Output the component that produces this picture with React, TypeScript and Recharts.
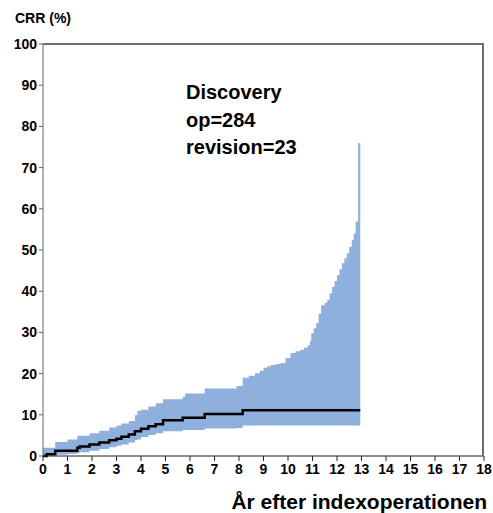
import React from "react";
import {
  ComposedChart,
  Area,
  Line,
  XAxis,
  YAxis,
} from "recharts";

// Years after index operation (step change points)
const years = [
  0, 0.15, 0.5, 1.0, 1.4, 1.5, 1.9, 2.3, 2.7, 3.0, 3.2, 3.5, 3.75, 3.85, 4.0,
  4.3, 4.6, 4.9, 5.7, 5.8, 6.6, 7.9, 8.15, 8.4, 8.65, 8.85, 9.0, 9.15, 9.3,
  9.5, 9.7, 9.9, 10.1, 10.3, 10.5, 10.65, 10.8, 10.9, 10.95, 11.05, 11.15,
  11.25, 11.35, 11.5, 11.6, 11.7, 11.8, 11.9, 12.0, 12.1, 12.2, 12.3, 12.4,
  12.5, 12.6, 12.68, 12.76, 12.86, 12.95,
];
// Cumulative revision rate (%)
const crr = [
  0, 0.4, 1.3, 1.3, 2.0, 2.3, 2.8, 3.3, 3.8, 4.2, 4.7, 5.2, 6.0, 6.0, 6.6, 7.2,
  7.7, 8.7, 9.3, 9.3, 10.2, 10.2, 11.1, 11.1, 11.1, 11.1, 11.1, 11.1, 11.1,
  11.1, 11.1, 11.1, 11.1, 11.1, 11.1, 11.1, 11.1, 11.1, 11.1, 11.1, 11.1, 11.1,
  11.1, 11.1, 11.1, 11.1, 11.1, 11.1, 11.1, 11.1, 11.1, 11.1, 11.1, 11.1, 11.1,
  11.1, 11.1, 11.1, 11.1,
];
// Lower confidence limit (%)
const lower = [
  0, 0.1, 0.3, 0.5, 0.7, 0.9, 1.3, 1.7, 2.1, 2.5, 2.8, 3.3, 3.9, 4.0, 4.6, 5.1,
  5.5, 6.0, 6.3, 6.3, 6.7, 6.8, 7.4, 7.4, 7.4, 7.4, 7.4, 7.4, 7.4, 7.4, 7.4,
  7.4, 7.4, 7.4, 7.4, 7.4, 7.4, 7.4, 7.4, 7.4, 7.4, 7.4, 7.4, 7.4, 7.4, 7.4,
  7.4, 7.4, 7.4, 7.4, 7.4, 7.4, 7.4, 7.4, 7.4, 7.4, 7.4, 7.4, 7.4,
];
// Upper confidence limit (%)
const upper = [
  2.0, 2.0, 3.4, 4.0, 4.9, 4.9, 5.5, 6.1, 6.9, 7.4, 7.9, 8.5, 9.9, 11.0, 11.2,
  12.0, 12.8, 13.8, 14.4, 15.2, 16.4, 17.0, 19.0, 19.5, 20.1, 20.7, 21.4, 21.8,
  22.1, 22.3, 22.6, 23.8, 25.0, 25.4, 25.8, 26.3, 26.9, 28.0, 29.8, 31.0, 32.2,
  34.5, 36.6, 37.2, 37.9, 39.5, 41.1, 42.5, 43.9, 45.3, 46.8, 48.0, 49.2, 50.8,
  52.4, 54.0, 56.9, 75.9, 75.9,
];

const xTicks = Array.from({ length: 19 }, (_, i) => i);
const yTicks = [0, 10, 20, 30, 40, 50, 60, 70, 80, 90, 100];

const data = years.map((t, i) => ({
  t,
  crr: crr[i],
  band: [lower[i], upper[i]],
}));

const FONT = "'Liberation Sans', Arial, sans-serif";
const W = 493;
const H = 513;
const M = { top: 44, right: 9, left: 0, bottom: 32 };
const Y_W = 43;
const X_H = 25;
const PL = M.left + Y_W;
const PR = W - M.right;
const PT = M.top;
const PB = H - M.bottom - X_H;

export default function App() {
  return (
    <div
      style={{
        position: "absolute",
        left: 0,
        top: 0,
        width: W,
        height: H,
        overflow: "hidden",
        background: "#fff",
      }}
    >
      <ComposedChart width={W} height={H} data={data} margin={M}>
        <XAxis
          dataKey="t"
          type="number"
          domain={[0, 18]}
          ticks={xTicks}
          interval={0}
          allowDataOverflow
          height={X_H}
          tickSize={5}
          tickMargin={3}
          stroke="#222"
          tick={{ fill: "#000", fontSize: 14, fontWeight: 700, fontFamily: FONT }}
        />
        <YAxis
          type="number"
          domain={[0, 100]}
          ticks={yTicks}
          interval={0}
          width={Y_W}
          tickSize={4}
          tickMargin={2}
          stroke="#666"
          tick={{ fill: "#000", fontSize: 14, fontWeight: 700, fontFamily: FONT }}
        />
        <Area
          dataKey="band"
          type="stepAfter"
          fill="#8fb0dc"
          fillOpacity={1}
          stroke="none"
          isAnimationActive={false}
        />
        <Line
          dataKey="crr"
          type="stepAfter"
          stroke="#000"
          strokeWidth={2.5}
          dot={false}
          activeDot={false}
          isAnimationActive={false}
        />
      </ComposedChart>
      <svg
        width={W}
        height={H}
        style={{ position: "absolute", left: 0, top: 0, pointerEvents: "none" }}
      >
        <path
          d={`M ${PL} ${PT} H ${PR - 1} V ${PB}`}
          fill="none"
          stroke="#6e6e6e"
          strokeWidth={2}
        />
        <g fontFamily={FONT} fontWeight={700} fill="#000">
          <text x={15} y={23} fontSize={14}>CRR (%)</text>
          <text x={186} y={99} fontSize={20}>Discovery</text>
          <text x={186} y={127} fontSize={20}>op=284</text>
          <text x={186} y={154} fontSize={20}>revision=23</text>
          <text x={487} y={509} fontSize={21} textAnchor="end">
            År efter indexoperationen
          </text>
        </g>
      </svg>
    </div>
  );
}
